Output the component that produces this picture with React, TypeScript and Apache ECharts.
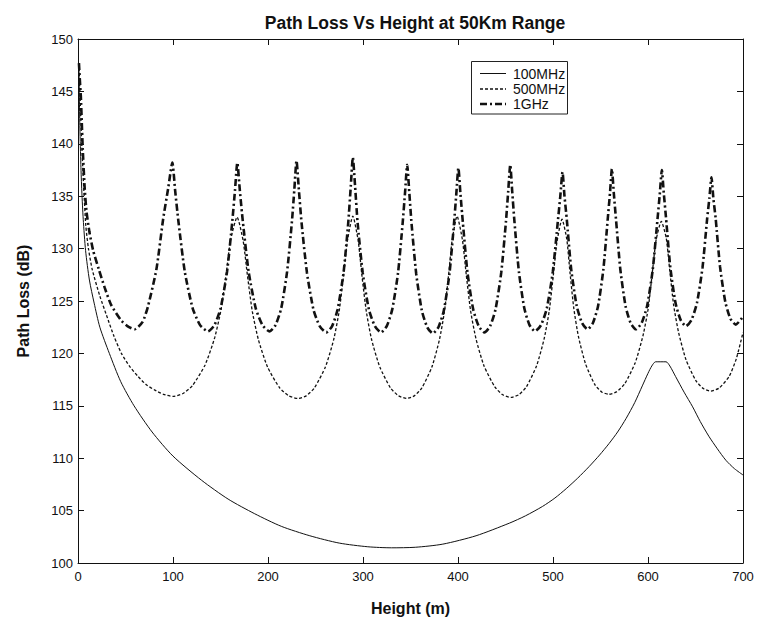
import { useEffect, useRef } from "react";
import * as echarts from "echarts";

const chartTitle = "Path Loss Vs Height at 50Km Range";
const xAxisName = "Height (m)";
const yAxisName = "Path Loss (dB)";
const seriesNames = ["100MHz", "500MHz", "1GHz"];

// [height (m), path loss (dB)]
const loss100MHz: [number, number][] = [
  [1, 147.5], [1.5, 144], [2, 141.5], [3, 138], [4, 135.5], [5.5, 132.8], [8, 129.8],
  [12, 127], [17, 124.8], [23, 122.5], [33, 120], [45, 117.3], [59, 115], [78, 112.5],
  [100, 110.2], [130, 107.9], [158, 106.1], [186, 104.7], [214, 103.5], [244, 102.6],
  [275, 101.9], [305, 101.55], [330, 101.45], [355, 101.5], [384, 101.8], [419, 102.6],
  [454, 103.8], [471, 104.5], [489, 105.4], [502, 106.2], [514, 107.1], [526, 108.1],
  [538, 109.2], [549, 110.3], [559, 111.4], [568, 112.5], [577, 113.8], [586, 115.3],
  [594, 116.9], [600, 118.1], [604, 118.8], [608, 119.2], [619, 119.2], [623, 118.8],
  [629, 117.8], [638, 116.3], [647, 114.9], [655, 113.5], [664, 112.1], [673, 110.9],
  [682, 109.8], [691, 109.0], [700, 108.4],
];

const loss500MHz: [number, number][] = [
  [1, 147.7], [2, 145], [3, 142.3], [4, 139.8], [5, 137.8], [6, 135.8], [8.2, 132.2],
  [11, 130], [15, 128], [22.9, 125.5], [31.7, 123.2], [38, 121.6], [45.7, 120], [54, 118.8],
  [63.2, 117.8], [72, 117], [80.8, 116.5], [90, 116.1], [100, 115.9],
  [110.1, 116.15], [120.25, 116.9], [133.75, 118.9], [143.9, 121.5], [150.6, 124.2],
  [156, 127.6], [160.75, 130.9], [167.5, 133.0],
  [173.9, 130.7], [178.4, 127.4], [183.5, 124.0], [189.9, 121.3], [199.5, 118.7],
  [212.3, 116.7], [221.9, 115.95], [231.5, 115.7],
  [240.2, 115.95], [248.8, 116.7], [260.4, 118.7], [269.1, 121.3], [274.85, 124.0],
  [279.5, 127.4], [283.5, 130.7], [289.3, 133.1],
  [295, 130.7], [298.9, 127.4], [303.5, 124.0], [309.1, 121.3], [317.7, 118.7],
  [329, 116.7], [337.5, 115.95], [346, 115.7],
  [354, 115.95], [361.9, 116.7], [372.5, 118.7], [380.45, 121.3], [385.75, 124.0],
  [390, 127.4], [393.7, 130.7], [399, 133.1],
  [404.7, 130.8], [408.7, 127.5], [413.2, 124.1], [418.9, 121.4], [427.4, 118.8],
  [438.8, 116.8], [447.1, 116.05], [455.8, 115.8],
  [463.9, 116.05], [471.9, 116.8], [482.65, 118.8], [490.7, 121.4], [496.1, 124.1],
  [500.4, 127.5], [504.1, 130.6], [509.5, 132.8],
  [514.5, 130.9], [517.9, 127.7], [521.9, 124.3], [526.8, 121.6], [534.25, 119.0],
  [544.2, 117.0], [551.6, 116.3], [559, 116.1],
  [567.25, 116.35], [575.5, 117.1], [586.5, 119.1], [594.75, 121.7], [600.25, 124.3],
  [604.65, 127.8], [608.5, 130.8], [614, 132.6],
  [619.2, 131.0], [622.8, 128.0], [627, 124.6], [632.2, 122.0], [640, 119.4],
  [650.4, 117.4], [658.2, 116.65], [666, 116.4],
  [675, 116.7], [685.4, 117.8], [693, 119.5], [700, 122.0],
];

const loss1GHz: [number, number][] = [
  [1, 147.7], [2, 146], [3, 144.5], [4, 142], [5, 139.5], [7, 135.8], [9, 133.5],
  [12, 131.6], [16, 129.8], [22, 128], [28, 126.3], [35, 124.6], [45, 123.2], [52, 122.6],
  [59.7, 122.3],
  [68, 123], [73.7, 124.5], [82.5, 128], [89.6, 132.8], [95, 135.8], [99.3, 138.2],
  [102.3, 135.5], [105.7, 132.6], [112.4, 127.8], [120.7, 124.3], [128.5, 122.7], [136.8, 122.1],
  [143.6, 122.7], [150.1, 124.3], [156.9, 127.8], [162.4, 132.6], [165.2, 135.5], [167.7, 138.2],
  [170.4, 135.5], [173.5, 132.6], [179.6, 127.8], [187.1, 124.3], [194.2, 122.7], [201.7, 122.1],
  [207.9, 122.7], [213.9, 124.3], [220.1, 127.8], [225.2, 132.6], [227.7, 135.6], [230, 138.4],
  [232.5, 135.6], [235.3, 132.5], [241, 127.7], [247.8, 124.2], [254.4, 122.6], [261.3, 122.0],
  [267.5, 122.6], [273.3, 124.2], [279.5, 127.7], [284.5, 132.5], [287.1, 135.9], [289.3, 138.7],
  [291.7, 135.9], [294.3, 132.5], [299.7, 127.7], [306.2, 124.2], [312.5, 122.6], [319, 122.0],
  [325, 122.6], [330.8, 124.2], [336.9, 127.7], [341.8, 132.5], [344.3, 135.4], [346.5, 138.0],
  [348.7, 135.4], [351.1, 132.4], [356, 127.6], [361.9, 124.1], [367.6, 122.5], [373.5, 121.9],
  [379.4, 122.5], [385.1, 124.1], [391, 127.6], [395.8, 132.4], [398.2, 135.2], [400.4, 137.7],
  [402.6, 135.2], [405.1, 132.5], [410, 127.7], [416, 124.2], [421.8, 122.6], [427.8, 122.0],
  [433.8, 122.6], [439.5, 124.2], [445.5, 127.7], [450.4, 132.5], [452.8, 135.4], [455, 138.0],
  [457.1, 135.4], [459.4, 132.6], [464.1, 127.8], [469.8, 124.3], [475.3, 122.7], [481, 122.1],
  [487.4, 122.7], [493.5, 124.3], [499.8, 127.8], [505.1, 132.6], [507.7, 135.0], [510, 137.3],
  [512.1, 135.0], [514.5, 132.8], [519.2, 128.0], [525, 124.5], [530.6, 122.9], [536.4, 122.3],
  [542, 122.9], [547.4, 124.5], [553, 128.0], [557.6, 132.8], [560, 135.3], [562, 137.6],
  [564, 135.3], [566.3, 132.8], [570.9, 128.0], [576.4, 124.5], [581.7, 122.9], [587.3, 122.3],
  [593.3, 122.9], [599, 124.5], [605, 128.0], [610, 132.8], [612.4, 135.2], [614.6, 137.5],
  [616.6, 135.3], [618.9, 133.0], [623.5, 128.2], [629, 124.8], [634.3, 123.2], [639.9, 122.6],
  [645.8, 123.2], [651.5, 124.8], [657.4, 128.2], [662.2, 132.8], [664.6, 134.8], [666.8, 136.8],
  [668.8, 134.8], [671.2, 132.9], [675.8, 128.3], [681.4, 124.9], [686.8, 123.3], [692.4, 122.75],
  [700, 123.5],
];

const xMin = 0;
const xMax = 700;
const xStep = 100;
const yMin = 100;
const yMax = 150;
const yStep = 5;

const FONT = "'Liberation Sans', Arial, Helvetica, sans-serif";
const INK = "#111";

const styles = [
  { width: 1, dash: null as number[] | null },
  { width: 1.3, dash: [3, 2] },
  { width: 2.6, dash: [7, 3, 2, 3] },
];

export default function App() {
  const ref = useRef<HTMLDivElement>(null);
  useEffect(() => {
    if (!ref.current) return;
    const chart = echarts.init(ref.current, null, { renderer: "svg" });
    const tick = { show: true, inside: true, length: 6, lineStyle: { color: INK, width: 1 } };
    const line = { show: true, onZero: false, lineStyle: { color: INK, width: 1 } };

    const legendX = 471.5;
    const legendY = 61.5;
    const rowY = [73.5, 89, 104];
    const legendGraphics: any[] = [
      {
        type: "rect",
        shape: { x: legendX, y: legendY, width: 96, height: 52.5 },
        style: { fill: "#fff", stroke: "#222", lineWidth: 1 },
        z: 100,
      },
    ];
    seriesNames.forEach((name, i) => {
      legendGraphics.push({
        type: "line",
        shape: { x1: 480, y1: rowY[i], x2: 506, y2: rowY[i] },
        style: {
          stroke: INK,
          lineWidth: styles[i].width,
          lineDash: styles[i].dash ?? undefined,
        },
        z: 101,
      });
      legendGraphics.push({
        type: "text",
        x: 513,
        y: rowY[i],
        style: {
          text: name,
          fill: INK,
          font: `14px ${FONT}`,
          textVerticalAlign: "middle",
          verticalAlign: "middle",
        },
        z: 101,
      });
    });

    chart.setOption({
      animation: false,
      backgroundColor: "#fff",
      textStyle: { fontFamily: FONT },
      title: {
        text: chartTitle,
        left: 410,
        textAlign: "center",
        top: 9,
        textStyle: { fontFamily: FONT, fontSize: 17.5, fontWeight: "bold", color: INK },
      },
      grid: { left: 78, top: 39, width: 665, height: 524, containLabel: false },
      xAxis: [
        {
          type: "value",
          position: "bottom",
          min: xMin,
          max: xMax,
          interval: xStep,
          axisLine: line,
          axisTick: tick,
          splitLine: { show: false },
          axisLabel: { fontFamily: FONT, fontSize: 13, color: INK, margin: 7 },
          name: xAxisName,
          nameLocation: "middle",
          nameGap: 37,
          nameTextStyle: { fontFamily: FONT, fontSize: 16, fontWeight: "bold", color: INK },
        },
        {
          type: "value",
          position: "top",
          min: xMin,
          max: xMax,
          interval: xStep,
          axisLine: line,
          axisTick: tick,
          splitLine: { show: false },
          axisLabel: { show: false },
        },
      ],
      yAxis: [
        {
          type: "value",
          position: "left",
          min: yMin,
          max: yMax,
          interval: yStep,
          axisLine: line,
          axisTick: tick,
          splitLine: { show: false },
          axisLabel: { fontFamily: FONT, fontSize: 13, color: INK, margin: 5 },
          name: yAxisName,
          nameLocation: "middle",
          nameGap: 47,
          nameTextStyle: { fontFamily: FONT, fontSize: 16, fontWeight: "bold", color: INK },
        },
        {
          type: "value",
          position: "right",
          min: yMin,
          max: yMax,
          interval: yStep,
          axisLine: line,
          axisTick: tick,
          splitLine: { show: false },
          axisLabel: { show: false },
        },
      ],
      graphic: legendGraphics,
      series: [
        {
          name: seriesNames[0],
          type: "line",
          xAxisIndex: 0,
          yAxisIndex: 0,
          data: loss100MHz,
          symbol: "none",
          smooth: 0.25,
          lineStyle: { color: INK, width: styles[0].width, type: "solid" },
          itemStyle: { color: INK },
        },
        {
          name: seriesNames[1],
          type: "line",
          xAxisIndex: 0,
          yAxisIndex: 0,
          data: loss500MHz,
          symbol: "none",
          smooth: 0.2,
          lineStyle: { color: INK, width: styles[1].width, type: styles[1].dash },
          itemStyle: { color: INK },
        },
        {
          name: seriesNames[2],
          type: "line",
          xAxisIndex: 0,
          yAxisIndex: 0,
          data: loss1GHz,
          symbol: "none",
          smooth: 0.2,
          lineStyle: { color: INK, width: styles[2].width, type: styles[2].dash },
          itemStyle: { color: INK },
        },
      ],
    });
    return () => chart.dispose();
  }, []);
  return (
    <div
      ref={ref}
      style={{ position: "fixed", left: 0, top: 0, width: 757, height: 621, background: "#fff" }}
    />
  );
}
